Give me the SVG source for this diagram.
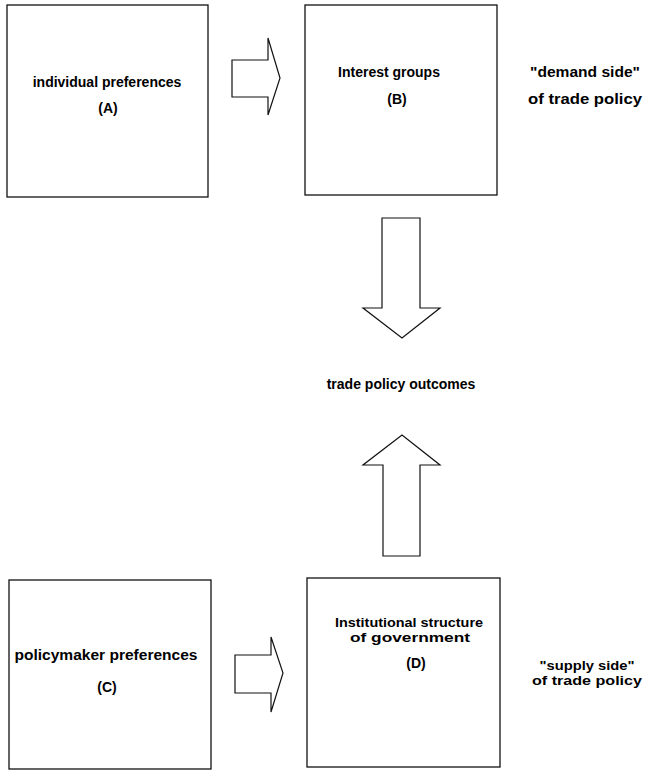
<svg xmlns="http://www.w3.org/2000/svg" width="650" height="771" viewBox="0 0 650 771">
<style>
.box{fill:#fff;stroke:#111;stroke-width:1.3}
.arr{fill:#fff;stroke:#111;stroke-width:1.2;stroke-linejoin:miter}
text{font-family:"Liberation Sans",Arial,sans-serif;font-weight:bold;font-size:14px;fill:#000;text-anchor:middle}
.sm{font-size:13px}
</style>
<rect width="650" height="771" fill="#fff"/>
<g id="nodeA">
<rect class="box" x="7" y="5" width="201" height="192"/>
<text x="107" y="87">individual preferences</text>
<text x="108" y="113">(A)</text>
</g>
<g id="nodeB">
<rect class="box" x="305" y="5" width="192" height="190"/>
<text x="389" y="77">Interest groups</text>
<text x="397" y="104">(B)</text>
</g>
<g id="demand-label">
<text x="585" y="77" textLength="110" lengthAdjust="spacingAndGlyphs">"demand side"</text>
<text x="585" y="104" textLength="114" lengthAdjust="spacingAndGlyphs">of trade policy</text>
</g>
<g id="outcomes">
<text x="401" y="389">trade policy outcomes</text>
</g>
<g id="nodeC">
<rect class="box" x="9" y="580" width="202" height="189"/>
<text x="106" y="660" textLength="183" lengthAdjust="spacingAndGlyphs">policymaker preferences</text>
<text x="107" y="692">(C)</text>
</g>
<g id="nodeD">
<rect class="box" x="307" y="578" width="193" height="189"/>
<text class="sm" x="409" y="627" textLength="148" lengthAdjust="spacingAndGlyphs">Institutional structure</text>
<text class="sm" x="410" y="642" textLength="120" lengthAdjust="spacingAndGlyphs">of government</text>
<text x="416" y="668">(D)</text>
</g>
<g id="supply-label">
<text class="sm" x="587" y="670" textLength="95" lengthAdjust="spacingAndGlyphs">"supply side"</text>
<text class="sm" x="587" y="685" textLength="110" lengthAdjust="spacingAndGlyphs">of trade policy</text>
</g>
<g id="connectors">
<path class="arr" d="M232,60 H268 V38 L280,78 L268,115 V97 H232 Z"/>
<path class="arr" d="M382,218 H420 V308 H440 L402,338 L363,308 H382 Z"/>
<path class="arr" d="M383,556 V465 H363 L402,435 L440,465 H420 V556 Z"/>
<path class="arr" d="M235,655 H271 V637 L283,673 L271,712 V693 H235 Z"/>
</g>
</svg>
